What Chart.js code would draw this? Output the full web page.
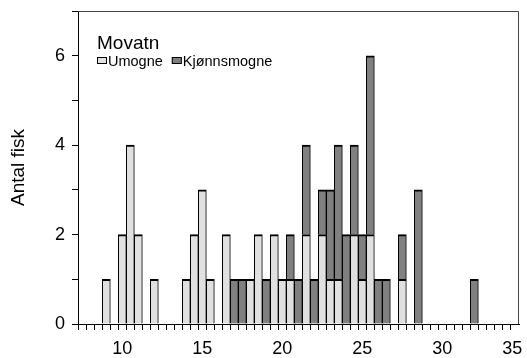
<!DOCTYPE html>
<html><head><meta charset="utf-8">
<script src="https://cdn.jsdelivr.net/npm/chart.js@4"></script>
<style>html,body{margin:0;padding:0;background:#fff}#wrap{width:527px;height:358px;position:relative}</style>
</head><body><div id="wrap"><canvas id="c" width="527" height="358"></canvas></div>
<script>
// Length classes (cm), bin centres
const lengths = [7.5,8,8.5,9,9.5,10,10.5,11,11.5,12,12.5,13,13.5,14,14.5,15,15.5,16,16.5,17,17.5,18,18.5,19,19.5,20,20.5,21,21.5,22,22.5,23,23.5,24,24.5,25,25.5,26,26.5,27,27.5,28,28.5,29,29.5,30,30.5,31,31.5,32,32.5,33,33.5,34,34.5];
// Counts: immature (Umogne)
const umogne = [0,0,0,1,0,2,4,2,0,1, 0,0,0,1,2,3,1,0,2,0, 0,1,2,0,2,1,1,0,2,0, 2,1,1,0,2,1,2,0,0,0, 1,0,0,0,0,0,0,0,0,0, 0,0,0,0,0];
// Counts: mature (Kjønnsmogne)
const kjonnsmogne = [0,0,0,0,0,0,0,0,0,0, 0,0,0,0,0,0,0,0,0,1, 1,0,0,1,0,0,1,1,2,1, 1,2,3,2,2,1,4,1,1,0, 1,0,3,0,0,0,0,0,0,1, 0,0,0,0,0];
const seriesNames = ['Umogne', 'Kjønnsmogne'];
const legendTitle = 'Movatn';
const yTitle = 'Antal fisk';
const xTickLabels = [10, 15, 20, 25, 30, 35];
const yTickLabels = [0, 2, 4, 6];
const xTickValues = lengths.concat([35]);

const FONT = '"Liberation Sans", Arial, Helvetica, sans-serif';
Chart.defaults.font.family = FONT;
Chart.defaults.color = '#000';

const insideLegend = {
  id: 'insideLegend',
  afterDraw(chart) {
    const {ctx, chartArea: a} = chart;
    ctx.save();
    ctx.fillStyle = '#000';
    ctx.font = '19px ' + FONT;
    ctx.textBaseline = 'alphabetic';
    ctx.textAlign = 'left';
    ctx.fillText(legendTitle, a.left + 19, a.top + 37.5);
    ctx.font = '14.5px ' + FONT;
    let x = a.left + 19;
    const y = a.top + 46;
    chart.data.datasets.forEach(ds => {
      ctx.fillStyle = ds.backgroundColor;
      ctx.fillRect(x, y, 10, 7);
      ctx.strokeStyle = '#000';
      ctx.lineWidth = 1;
      ctx.strokeRect(x + 0.5, y + 0.5, 9, 6);
      ctx.fillStyle = '#000';
      ctx.textBaseline = 'alphabetic';
      ctx.fillText(ds.label, x + 11, y + 8.5);
      x += 11 + ctx.measureText(ds.label).width + 9;
    });
    ctx.restore();
  }
};

const frame = {
  id: 'frame',
  afterDraw(chart) {
    const {ctx, chartArea: a} = chart;
    ctx.save();
    ctx.strokeStyle = '#444';
    ctx.lineWidth = 1;
    ctx.beginPath();
    ctx.moveTo(a.left, Math.round(a.top) + 0.5);
    ctx.lineTo(Math.round(a.right) - 0.5, Math.round(a.top) + 0.5);
    ctx.lineTo(Math.round(a.right) - 0.5, a.bottom);
    ctx.stroke();
    ctx.restore();
  }
};

new Chart(document.getElementById('c'), {
  type: 'bar',
  data: {
    datasets: [
      {
        label: seriesNames[0],
        data: lengths.map((x, i) => ({x: x, y: umogne[i]})),
        backgroundColor: '#e0e0e0',
        borderColor: '#000',
        borderWidth: {top: 2, left: 1, right: 1, bottom: 0},
        barPercentage: 1,
        categoryPercentage: 1
      },
      {
        label: seriesNames[1],
        data: lengths.map((x, i) => ({x: x, y: kjonnsmogne[i]})),
        backgroundColor: '#808080',
        borderColor: '#000',
        borderWidth: {top: 2, left: 1, right: 1, bottom: 0},
        barPercentage: 1,
        categoryPercentage: 1
      }
    ]
  },
  options: {
    responsive: false,
    animation: false,
    layout: {padding: {top: 11, right: 8, bottom: 0, left: 0}},
    plugins: {legend: {display: false}, tooltip: {enabled: false}},
    scales: {
      x: {
        type: 'linear',
        stacked: true,
        min: 7.23,
        max: 34.79,
        offset: false,
        grid: {
          display: true, drawOnChartArea: false, drawTicks: true, tickLength: 6,
          tickColor: c => (c.tick && c.tick.value > 34.8) ? 'rgba(0,0,0,0)' : '#000'
        },
        border: {display: true, color: '#000', width: 1},
        afterBuildTicks: s => { s.ticks = xTickValues.map(v => ({value: v})); },
        afterFit: s => { s.height = 34; s.paddingLeft = 0; s.paddingRight = 0; },
        ticks: {
          autoSkip: false, maxRotation: 0, minRotation: 0, align: 'inner', padding: 8,
          font: {size: 18}, color: '#000',
          callback: v => xTickLabels.includes(v) ? String(v) : ''
        }
      },
      y: {
        stacked: true,
        min: 0,
        max: 7,
        grid: {display: true, drawOnChartArea: false, drawTicks: true, tickLength: 6, tickColor: '#000'},
        border: {display: true, color: '#000', width: 1},
        afterFit: s => { s.width = 78; s.paddingTop = 0; s.paddingBottom = 0; },
        ticks: {
          stepSize: 1, padding: 7, font: {size: 18}, color: '#000',
          callback: v => yTickLabels.includes(v) ? String(v) : ''
        },
        title: {display: true, text: yTitle, font: {size: 19}, color: '#000', padding: {top: 7, bottom: 0}}
      }
    }
  },
  plugins: [insideLegend, frame]
});
</script>
</body></html>
